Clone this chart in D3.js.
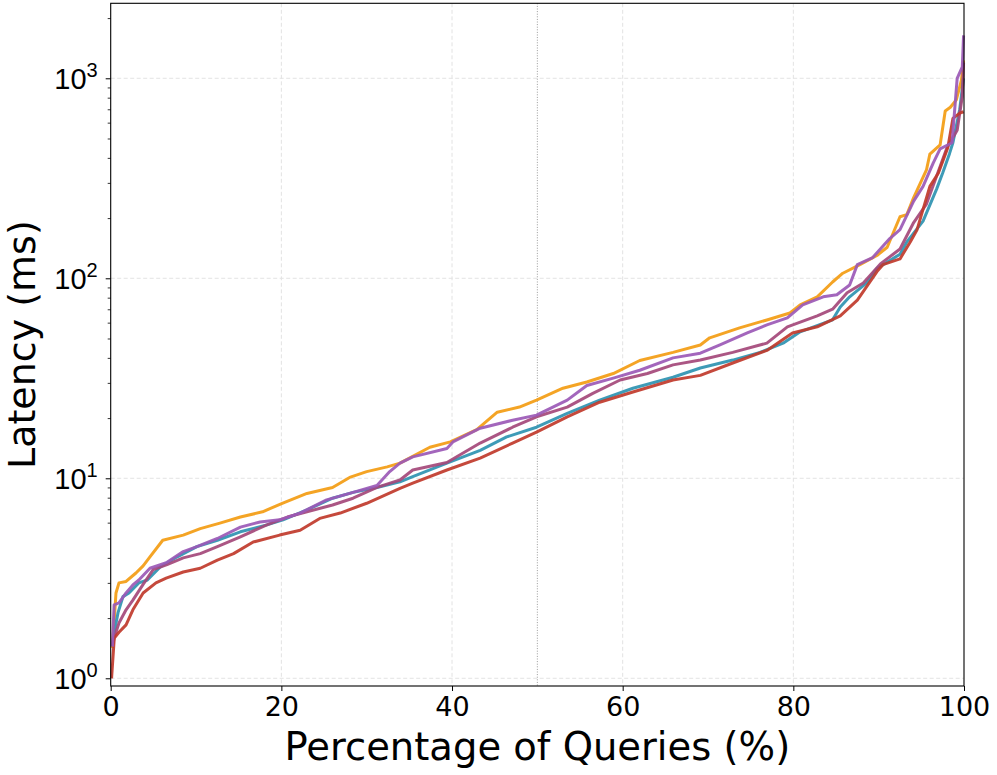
<!DOCTYPE html>
<html>
<head>
<meta charset="utf-8">
<script src="https://cdn.jsdelivr.net/npm/d3@7"></script>
<style>
  body { margin: 0; background: #fff; }
  svg { font-family: "DejaVu Sans", sans-serif; }
</style>
</head>
<body>
<div id="chart" style="width:997px;height:775px;"></div>
<script>
// percentage of queries (x) and latency in ms (y)
const orangePct = [0.2,0.62,0.97,1.8,2.96,3.8,4.6,6.1,8.5,10.5,12.8,15.2,17.8,20.1,23.0,26.0,28.0,30.0,32.4,33.9,37.4,39.8,42.9,45.3,47.9,49.9,53.0,55.8,58.9,62.0,65.9,69.1,70.2,73.7,76.9,79.6,80.8,82.8,84.6,85.8,87.8,89.8,91.0,92.5,93.3,94.1,95.6,96.0,97.2,97.8,98.4,99.1,99.7,99.95];
const orangeMs  = [1.42,2.67,3.0,3.05,3.36,3.65,4.05,4.9,5.2,5.6,5.97,6.4,6.8,7.5,8.4,9.0,10.1,10.8,11.4,11.9,14.3,15.2,17.5,21.4,22.7,24.6,28.2,30.3,33.4,38.8,42.6,46.4,50.4,56.5,61.9,67.1,73.6,80.8,95.8,106,117,130,143,203,208,253,348,418,464,686,716,780,980,1230];

const tealPct = [0.2,0.42,0.86,1.44,2.14,3.3,4.3,5.8,7.8,10.1,12.5,15.2,18.3,20.2,23.0,26.0,28.4,31.2,33.9,35.4,39.4,43.3,46.4,49.9,53.5,57.3,61.2,65.9,69.1,72.9,76.1,78.8,80.8,84.6,85.5,86.6,88.6,89.8,92.5,93.3,95.2,96.8,97.5,98.3,98.7,99.5,99.95];
const tealMs  = [1.45,1.7,2.13,2.56,2.67,3.0,3.1,3.6,4.05,4.55,4.9,5.4,5.85,6.2,6.95,7.95,8.5,9.0,9.6,10.2,11.9,13.8,16.1,18.0,21.1,24.6,28.2,32.0,35.6,39.0,42.6,47.4,54.0,62.0,71.9,80.8,94.8,112,132,152,193,280,336,420,476,700,1000];

const purplePct = [0.2,0.4,0.97,1.8,2.6,3.3,4.6,6.6,8.5,10.1,12.5,15.2,17.5,19.8,22.2,25.3,28.0,31.2,32.7,33.9,35.4,39.4,40.1,43.3,47.1,49.9,53.5,55.8,58.9,62.0,65.9,69.1,71.4,74.6,76.9,79.3,81.1,83.5,85.1,86.6,87.5,89.3,91.3,92.5,94.1,95.2,96.4,97.2,98.6,99.2,99.8,99.95];
const purpleMs  = [1.44,2.33,2.38,2.67,2.93,3.1,3.55,3.8,4.3,4.55,5.0,5.7,6.05,6.2,6.7,7.8,8.4,9.2,10.8,11.9,12.8,14.1,15.2,17.8,19.5,20.7,24.6,29.1,31.7,34.7,40.0,42.2,46.4,53.3,58.5,63.4,73.6,80.8,82.7,92.6,117,127,158,175,243,288,378,444,476,1000,1140,1640];

const plumPct = [0.2,0.42,0.97,1.8,2.6,3.8,5.0,6.6,8.5,10.5,12.5,15.2,18.3,20.7,23.0,26.0,28.4,31.2,33.9,35.4,39.4,43.3,47.1,49.9,53.5,56.5,59.7,62.9,65.9,69.1,72.9,76.9,79.3,82.8,84.6,86.3,88.2,90.2,92.5,94.1,95.6,98.0,99.2,99.8,99.95];
const plumMs  = [1.45,1.6,1.89,2.2,2.46,2.95,3.5,3.7,4.0,4.2,4.55,5.1,5.85,6.4,6.8,7.35,7.95,9.0,9.8,11.0,12.0,15.0,18.0,20.3,22.7,26.6,31.0,33.4,36.9,39.0,42.6,47.4,57.2,64.9,70.1,84.6,94.8,118,140,190,235,450,550,810,1200];

const redPct = [0.1,0.42,0.97,1.8,2.6,3.8,5.3,6.5,8.5,10.5,12.5,14.4,16.7,19.8,22.2,24.5,26.9,30.0,33.9,35.4,39.4,43.3,47.1,49.9,53.5,57.3,61.2,65.9,69.1,72.9,76.9,79.9,82.8,85.5,87.5,89.8,90.5,92.5,93.7,94.5,96.0,97.0,98.1,98.7,99.5,99.95];
const redMs  = [1.0,1.59,1.7,1.85,2.2,2.67,3.0,3.17,3.4,3.55,3.9,4.2,4.8,5.2,5.5,6.3,6.7,7.5,8.9,9.45,11.0,12.6,15.0,17.0,20.3,24.0,27.0,31.0,32.7,37.7,43.6,53.3,57.2,64.9,77.8,108,117,125,152,175,288,336,450,630,670,680];

const xTicks = [0,20,40,60,80,100];
const yTicks = [1,10,100,1000];

const seriesList = [
  {name:"orange", color:"#f39c12", pct:orangePct, ms:orangeMs},
  {name:"teal",   color:"#2e93b1", pct:tealPct,   ms:tealMs},
  {name:"plum",   color:"#a4487a", pct:plumPct,   ms:plumMs},
  {name:"red",    color:"#c0392b", pct:redPct,    ms:redMs},
  {name:"purple", color:"#9b59b6", pct:purplePct, ms:purpleMs}
];

const root = document.getElementById("chart");
const W = 997, H = 775;
const m = {t:3.3, l:110.7, r:33, b:89};
const w = W - m.l - m.r;
const h = H - m.t - m.b;

const x = d3.scaleLinear().domain([0,100]).range([0,w]);
const y = d3.scaleLog().domain([0.915, 2371]).range([h,0]);

const svg = d3.select(root).append("svg")
  .attr("width", W).attr("height", H);

const plot = svg.append("g")
  .attr("transform", `translate(${m.l},${m.t})`);

// grid
plot.append("g").selectAll("line")
  .data([20,40,60,80])
  .join("line")
  .attr("x1", d => x(d)).attr("x2", d => x(d))
  .attr("y1", 0).attr("y2", h)
  .attr("stroke", "#e3e3e3").attr("stroke-width", 1)
  .attr("stroke-dasharray", "4,2.5");

plot.append("g").selectAll("line")
  .data(yTicks)
  .join("line")
  .attr("x1", 0).attr("x2", w)
  .attr("y1", d => y(d)).attr("y2", d => y(d))
  .attr("stroke", "#e3e3e3").attr("stroke-width", 1)
  .attr("stroke-dasharray", "4,2.5");

// median marker
plot.append("line")
  .attr("x1", x(50)).attr("x2", x(50))
  .attr("y1", 0).attr("y2", h)
  .attr("stroke", "#9a9a9a").attr("stroke-width", 1)
  .attr("stroke-dasharray", "1,1.6");

const line = d3.line()
  .x(d => x(d[0]))
  .y(d => y(d[1]));

plot.append("g").selectAll("path")
  .data(seriesList)
  .join("path")
  .attr("d", s => line(s.pct.map((p,i) => [p, s.ms[i]])))
  .attr("fill", "none")
  .attr("stroke", s => s.color)
  .attr("stroke-width", 3)
  .attr("stroke-opacity", 0.92)
  .attr("stroke-linejoin", "round");

// axes
const axisX = d3.axisBottom(x).tickValues(xTicks).tickSize(5).tickPadding(6);
const gx = plot.append("g")
  .attr("transform", `translate(0,${h})`)
  .call(axisX);
gx.select(".domain").remove();
gx.selectAll("text").attr("font-size", 27).attr("fill", "#000").attr("font-family", "DejaVu Sans");

const minor = [];
[1,10,100,1000].forEach(dec => { for (let k = 2; k <= 9; k++) if (dec*k < 2371) minor.push(dec*k); });

const gyMinor = plot.append("g").call(d3.axisLeft(y).tickValues(minor).tickSize(3).tickFormat(""));
gyMinor.select(".domain").remove();
gyMinor.selectAll("line").attr("stroke-width", 0.8);

const gy = plot.append("g").call(d3.axisLeft(y).tickValues(yTicks).tickSize(5).tickPadding(6).tickFormat(""));
gy.select(".domain").remove();
gy.selectAll(".tick").append("text")
  .attr("x", -13).attr("dy", "0.36em")
  .attr("text-anchor", "end")
  .attr("fill", "#000")
  .attr("font-size", 29)
  .each(function(d) {
    const t = d3.select(this);
    t.append("tspan").text("10");
    t.append("tspan").attr("font-size", 20).attr("dy", "-0.6em").text(Math.round(Math.log10(d)));
  });

// frame
plot.append("rect")
  .attr("width", w).attr("height", h)
  .attr("fill", "none").attr("stroke", "#000").attr("stroke-width", 1.1);

// titles
svg.append("text")
  .attr("x", m.l + w/2).attr("y", 760)
  .attr("text-anchor", "middle")
  .attr("font-size", 38.5)
  .text("Percentage of Queries (%)");

svg.append("text")
  .attr("transform", `translate(35,${m.t + h/2}) rotate(-90)`)
  .attr("text-anchor", "middle")
  .attr("font-size", 38)
  .text("Latency (ms)");
</script>
</body>
</html>
